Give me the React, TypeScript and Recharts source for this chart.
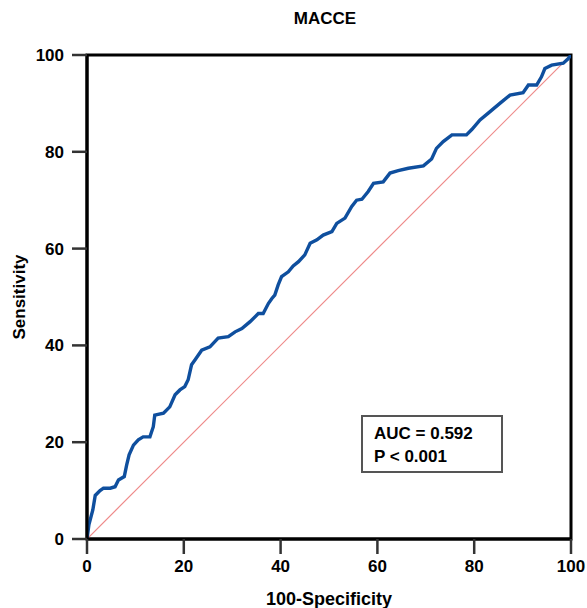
import React from "react";
import { LineChart, Line, XAxis, YAxis, ReferenceArea } from "recharts";

const fpr = [0, 0.4, 1.2, 1.7, 2.7, 3.4, 4.8, 5.8, 6.5, 7.7, 8.2, 8.7, 9.6, 10.6, 11.6, 13.0, 13.7, 14.0, 15.8, 17.1, 18.2, 19.2, 20.2, 20.9, 21.6, 22.3, 23.7, 25.4, 27.1, 29.2, 30.6, 32.0, 33.7, 35.4, 36.4, 37.5, 38.2, 38.8, 39.5, 40.2, 41.6, 42.6, 43.7, 45.0, 46.1, 47.5, 48.8, 50.6, 51.6, 53.3, 54.7, 55.7, 56.8, 58.1, 59.2, 61.2, 62.6, 64.3, 66.4, 69.5, 71.2, 72.2, 73.6, 75.4, 78.4, 79.5, 81.2, 82.9, 85.3, 87.4, 90.1, 91.2, 92.9, 93.9, 94.6, 96.0, 98.4, 99.4, 100];
const tpr = [0, 3, 6, 9, 10, 10.5, 10.5, 10.8, 12.2, 12.9, 15.3, 17.4, 19.4, 20.5, 21.1, 21.1, 23.2, 25.6, 26.0, 27.3, 29.8, 30.8, 31.5, 32.9, 36.0, 37.0, 39.0, 39.7, 41.5, 41.8, 42.8, 43.5, 44.9, 46.6, 46.6, 48.7, 49.7, 50.4, 52.5, 54.2, 55.2, 56.4, 57.3, 58.7, 61.1, 61.8, 62.8, 63.5, 65.2, 66.3, 68.7, 70.0, 70.2, 71.8, 73.5, 73.8, 75.6, 76.1, 76.6, 77.1, 78.5, 80.7, 82.1, 83.5, 83.5, 84.6, 86.6, 88.0, 90.0, 91.7, 92.2, 93.8, 93.8, 95.5, 97.2, 97.9, 98.3, 99.2, 100];
const diagX = [0, 100];
const diagY = [0, 100];
const ticks = [0, 20, 40, 60, 80, 100];
const title = "MACCE";
const xLabel = "100-Specificity";
const yLabel = "Sensitivity";
const legendLines = ["AUC = 0.592", "P < 0.001"];

const rocData = fpr.map((x, i) => ({ x, y: tpr[i] }));
const diagData = diagX.map((x, i) => ({ x, d: diagY[i] }));

const FONT = "'Liberation Sans', Arial, sans-serif";

export default function App() {
  const tickStyle = { fontFamily: FONT, fontWeight: 700, fontSize: 17, fill: "#000" };
  return (
    <div style={{ position: "absolute", left: 0, top: 0, width: 587, height: 608, background: "#fff", fontFamily: FONT, overflow: "hidden" }}>
      <LineChart width={587} height={608} margin={{ top: 55, right: 16, left: 0, bottom: 0 }}>
        <XAxis
          type="number"
          dataKey="x"
          domain={[0, 100]}
          ticks={ticks}
          allowDataOverflow
          height={69}
          tickSize={15}
          tickMargin={6}
          tick={tickStyle}
          axisLine={{ stroke: "#000", strokeWidth: 3 }}
          tickLine={{ stroke: "#333", strokeWidth: 2.5 }}
        />
        <YAxis
          type="number"
          domain={[0, 100]}
          ticks={ticks}
          allowDataOverflow
          width={87}
          tickSize={15}
          tickMargin={8}
          tick={tickStyle}
          axisLine={{ stroke: "#000", strokeWidth: 3 }}
          tickLine={{ stroke: "#333", strokeWidth: 2.5 }}
        />
        <ReferenceArea x1={0} x2={100} y1={0} y2={100} fill="none" fillOpacity={0} stroke="#000" strokeWidth={3} ifOverflow="visible" />
        <Line data={diagData} dataKey="d" type="linear" stroke="#ee8a8a" strokeWidth={1.2} dot={false} activeDot={false} isAnimationActive={false} />
        <Line data={rocData} dataKey="y" type="linear" stroke="#0f4f9e" strokeWidth={3.4} dot={false} activeDot={false} isAnimationActive={false} strokeLinejoin="miter" />
      </LineChart>
      <div style={{ position: "absolute", left: 0, width: 650, top: 9, textAlign: "center", fontWeight: 700, fontSize: 17 }}>{title}</div>
      <div style={{ position: "absolute", left: 87, width: 484, top: 589, textAlign: "center", fontWeight: 700, fontSize: 18, whiteSpace: "nowrap" }}>{xLabel}</div>
      <div style={{ position: "absolute", left: 20, top: 297, transform: "translate(-50%, -50%) rotate(-90deg)", fontWeight: 700, fontSize: 17, whiteSpace: "nowrap" }}>{yLabel}</div>
      <div style={{ position: "absolute", left: 361, top: 415, width: 138, height: 54, border: "2px solid #555", background: "#fff", boxSizing: "content-box" }}>
        <div style={{ position: "absolute", left: 11, top: 5, fontWeight: 700, fontSize: 17, lineHeight: "23px", whiteSpace: "nowrap" }}>
          {legendLines.map((t) => (<div key={t}>{t}</div>))}
        </div>
      </div>
    </div>
  );
}
